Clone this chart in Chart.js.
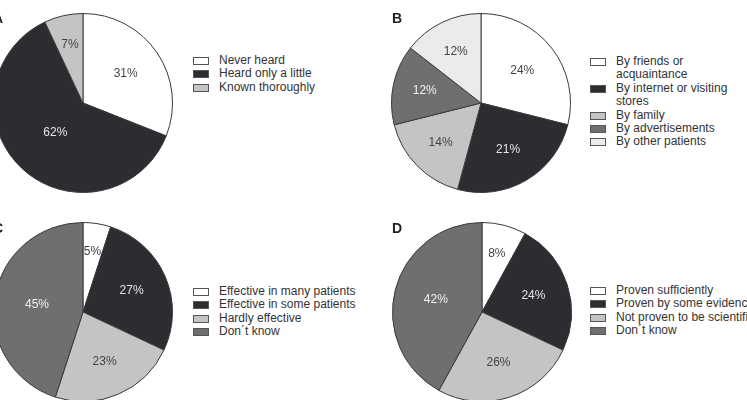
<!DOCTYPE html>
<html>
<head>
<meta charset="utf-8">
<script src="https://cdn.jsdelivr.net/npm/chart.js@4"></script>
<style>
	body { margin: 0; background: #fff; width: 747px; height: 400px; overflow: hidden; position: relative; font-family: "Liberation Sans", Arial, sans-serif; }
	canvas { position: absolute; }
	.letter { position: absolute; font-weight: bold; font-size: 14px; line-height: 14px; color: #222; }
	.legend { position: absolute; font-size: 12px; line-height: 13.4px; color: #333; }
	.legend .row { display: flex; align-items: flex-start; white-space: nowrap; }
	.legend .box { width: 14px; height: 6px; border: 1px solid #555; margin: 3px 10px 0 0; flex: none; }
</style>
</head>
<body>
<script>
	// values
	var letters = ['A', 'B', 'C', 'D'];

	var awarenessLabels = ['Never heard', 'Heard only a little', 'Known thoroughly'];
	var awarenessValues = [31, 62, 7];

	var sourceLabels = [['By friends or', 'acquaintance'], ['By internet or visiting', 'stores'], 'By family', 'By advertisements', 'By other patients'];
	var sourceValues = [24, 21, 14, 12, 12];

	var effectLabels = ['Effective in many patients', 'Effective in some patients', 'Hardly effective', 'Don\u00b4t know'];
	var effectValues = [5, 27, 23, 45];

	var evidenceLabels = ['Proven sufficiently', 'Proven by some evidence', 'Not proven to be scientifically', 'Don\u00b4t know'];
	var evidenceValues = [8, 24, 26, 42];

	var fills = ['#ffffff', '#2c2d31', '#c4c4c4', '#6f6f6f', '#ebebeb'];
	var inks = ['#444', '#e4e4e4', '#444', '#f0f0f0', '#444'];

	var panels = [
		{labels: awarenessLabels, values: awarenessValues, pie: [-17, 3], letter: [-7, 11], legend: [193, 54]},
		{labels: sourceLabels, values: sourceValues, pie: [381, 3], letter: [392, 11], legend: [590, 55]},
		{labels: effectLabels, values: effectValues, pie: [-17, 212], letter: [-7, 221], legend: [193, 285]},
		{labels: evidenceLabels, values: evidenceValues, pie: [382, 212], letter: [392, 221], legend: [590, 284]}
	];

	// percent text inside each slice, bigger slices sit closer to the middle
	var sliceText = {
		id: 'sliceText',
		afterDatasetsDraw(chart){
			let ctx = chart.ctx;
			let meta = chart.getDatasetMeta(0);
			ctx.save();
			ctx.font = '12px "Liberation Sans", Arial, sans-serif';
			ctx.textAlign = 'center';
			ctx.textBaseline = 'middle';
			meta.data.forEach((arc, i) => {
				let p = arc.getProps(['x', 'y', 'startAngle', 'endAngle', 'outerRadius'], true);
				let mid = (p.startAngle + p.endAngle) / 2;
				let frac = (p.endAngle - p.startAngle) / (2 * Math.PI);
				let d = p.outerRadius * (0.7 - 0.4 * frac);
				ctx.fillStyle = inks[i];
				ctx.fillText(chart.data.datasets[0].data[i] + '%', p.x + Math.cos(mid) * d, p.y + Math.sin(mid) * d);
			});
			ctx.restore();
		}
	};

	panels.forEach((pn, k) => {
		let cv = document.createElement('canvas');
		cv.width = 200;
		cv.height = 200;
		cv.style.left = pn.pie[0] + 'px';
		cv.style.top = pn.pie[1] + 'px';
		document.body.appendChild(cv);

		new Chart(cv, {
			type: 'pie',
			data: {
				labels: pn.labels,
				datasets: [{
					data: pn.values,
					backgroundColor: fills.slice(0, pn.values.length),
					borderColor: '#3a3a3a',
					borderWidth: 1
				}]
			},
			options: {
				responsive: false,
				animation: false,
				layout: {padding: 10},
				plugins: {
					legend: {display: false},
					tooltip: {enabled: false}
				}
			},
			plugins: [sliceText]
		});

		let lt = document.createElement('div');
		lt.className = 'letter';
		lt.textContent = letters[k];
		lt.style.left = pn.letter[0] + 'px';
		lt.style.top = pn.letter[1] + 'px';
		document.body.appendChild(lt);

		let lg = document.createElement('div');
		lg.className = 'legend';
		lg.style.left = pn.legend[0] + 'px';
		lg.style.top = pn.legend[1] + 'px';
		pn.labels.forEach((lbl, i) => {
			let row = document.createElement('div');
			row.className = 'row';
			let box = document.createElement('span');
			box.className = 'box';
			box.style.background = fills[i];
			let txt = document.createElement('span');
			txt.innerHTML = [].concat(lbl).join('<br>');
			row.appendChild(box);
			row.appendChild(txt);
			lg.appendChild(row);
		});
		document.body.appendChild(lg);
	});
</script>
</body>
</html>
